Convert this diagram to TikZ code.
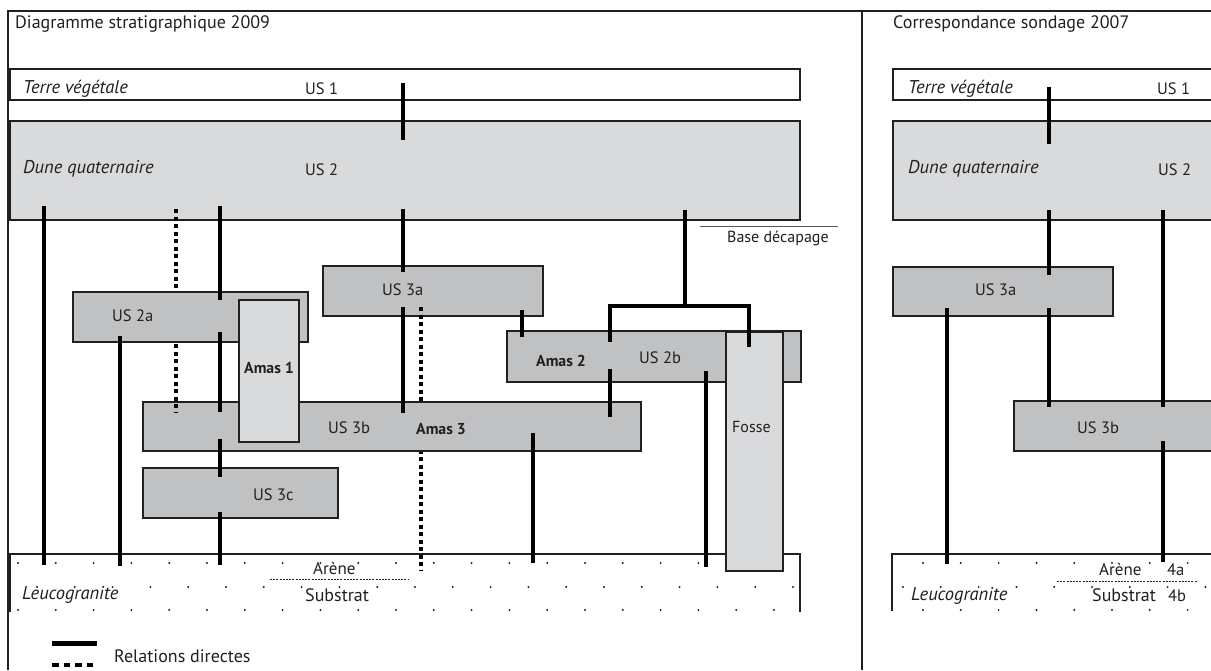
\documentclass[tikz,border=0pt]{standalone}
\usepackage{fontspec}
\setmainfont{PT Sans}
\usetikzlibrary{calc}
\definecolor{lightg}{RGB}{217,218,220}
\definecolor{midg}{RGB}{192,193,195}
\definecolor{ink}{RGB}{35,31,32}
\begin{document}
\begin{tikzpicture}[x=1pt,y=-1pt,
  ubox/.style={draw=ink, line width=1.3pt, inner sep=0pt, outer sep=0pt, anchor=north west},
  rel/.style={draw=black, line width=3.2pt},
  relind/.style={draw=black, line width=3.2pt, dash pattern=on 4pt off 3.5pt},
  frame/.style={draw=ink, line width=2pt},
  lab/.style={anchor=base west, inner sep=0pt, text=ink, font=\fontsize{18}{20}\selectfont},
  us/.style={lab, font=\fontsize{16.5}{18}\selectfont},
  ital/.style={lab, font=\fontsize{18.5}{20}\selectfont\itshape},
  bl/.style={lab, font=\fontsize{15.8}{17}\selectfont\bfseries},
  sm/.style={lab, font=\fontsize{16}{17}\selectfont},
  dot/.style={fill=ink}
]
\useasboundingbox (0,0) rectangle (1211,670);
\clip (0,0) rectangle (1211,670);
\fill[white] (0,0) rectangle (1211,670);

% frame
\draw[frame] (8,670) -- (8,11) -- (1211,11);
\draw[frame] (862,11) -- (862,670);

% ---------- left panel ----------
% leucogranite
\node[ubox, draw=none, minimum width=790pt, minimum height=58pt] (leuco) at (10,554) {};
\draw[ubox] (leuco.south west) -- (leuco.north west) -- (leuco.north east) -- (leuco.south east);
\foreach \k in {0,...,20} {
  \fill[dot] (18+37.8*\k,563) circle[radius=1.1pt];
  \fill[dot] (37+37.8*\k,587) circle[radius=1.1pt];
  \fill[dot] (18+37.8*\k,610) circle[radius=1.1pt];
}
\draw[ink, line width=0.8pt, dash pattern=on 2pt off 1.2pt] (270,579) -- (408,579);

% boxes
\node[ubox, fill=white, minimum width=790pt, minimum height=31pt] (us1) at (10,69) {};
\node[ubox, fill=lightg, minimum width=790pt, minimum height=99pt] (us2) at (10,121) {};
\node[ubox, fill=midg, minimum width=220pt, minimum height=50pt] (us3a) at (323,266) {};
\node[ubox, fill=midg, minimum width=294pt, minimum height=51pt] (us2b) at (507,331) {};
\node[ubox, fill=midg, minimum width=195pt, minimum height=50pt] (us3c) at (143,468) {};
\draw[relind, shorten <=-9pt, shorten >=-16pt] (us3a.south -| 421,0) -- (leuco.north -| 421,0);
\node[ubox, fill=midg, minimum width=498pt, minimum height=49pt] (us3b) at (143,402) {};
\draw[relind, shorten <=-11pt, shorten >=-10pt] (us2.south -| 176,0) -- (us3b.north -| 176,0);
\node[ubox, fill=midg, minimum width=235pt, minimum height=50pt] (us2a) at (73,292) {};
\node[ubox, fill=lightg, minimum width=60pt, minimum height=142pt] (amas1) at (239,300) {};
\node[ubox, fill=lightg, minimum width=57pt, minimum height=239pt] (fosse) at (726,332) {};

% base décapage
\draw[ink!75, line width=1pt] (700,226) -- (838,226);

% relations
\draw[rel, shorten <=-17pt, shorten >=-19pt] (us1.south -| 403,0) -- (us2.north -| 403,0);
\draw[rel, shorten <=-11pt, shorten >=-6pt] (us2.south -| 403,0) -- (us3a.north -| 403,0);
\draw[rel, shorten <=-9pt, shorten >=-11pt] (us3a.south -| 403,0) -- (us3b.north -| 403,0);
\draw[rel, shorten <=-14pt, shorten >=-11pt] (us2.south -| 44,0) -- (leuco.north -| 44,0);
\draw[rel, shorten <=-14pt, shorten >=-8pt] (us2.south -| 220,0) -- (us2a.north -| 220,0);
\draw[rel, shorten <=-10pt, shorten >=-10pt] (us2a.south -| 220,0) -- (us3b.north -| 220,0);
\draw[rel, shorten <=-12pt, shorten >=-9pt] (us3b.south -| 220,0) -- (us3c.north -| 220,0);
\draw[rel, shorten <=-6pt, shorten >=-11pt] (us3c.south -| 220,0) -- (leuco.north -| 220,0);
\draw[rel, shorten <=-6pt, shorten >=-12pt] (us2a.south -| 120,0) -- (leuco.north -| 120,0);
\draw[rel, shorten <=-18pt, shorten >=-9pt] (us3b.south -| 533,0) -- (leuco.north -| 533,0);
\draw[rel, shorten <=-6pt, shorten >=-6pt] (us3a.south -| 522,0) -- (us2b.north -| 522,0);
\draw[rel, shorten <=-13pt, shorten >=-15pt] (us2b.south -| 610,0) -- (us3b.north -| 610,0);
\draw[rel, shorten <=-11pt, shorten >=-13pt] (us2b.south -| 706,0) -- (leuco.north -| 706,0);
\coordinate (fork) at (685,306);
\draw[rel] ($(us2.south -| 685,0)+(0,-10)$) -- (fork);
\draw[rel] ($(us2b.north -| 610,0)+(0,11)$) |- (fork) -| ($(fosse.north -| 749,0)+(0,15)$);

% texts left
\node[lab] (title1) at (15,28) {Diagramme stratigraphique 2009};
\node[ital] at (23,93) {Terre végétale};
\node[us] at (305,94) {US 1};
\node[ital] at (23,173) {Dune quaternaire};
\node[us] at (305,175) {US 2};
\node[us] at (112,321) {US 2a};
\node[us] at (382,295) {US 3a};
\node[bl] at (244,373) {Amas 1};
\node[us] at (328,433) {US 3b};
\node[bl] at (416,434) {Amas 3};
\node[bl] at (536,366) {Amas 2};
\node[us] at (639,363) {US 2b};
\node[sm] at (732,432) {Fosse};
\node[us] at (253,500) {US 3c};
\node[sm] at (727,242) {Base décapage};
\node[ital] at (22,599) {Leucogranite};
\node[lab, font=\fontsize{17}{18}\selectfont] at (313,574) {Arène};
\node[lab] at (305,601) {Substrat};

% legend
\draw[draw=black, line width=5pt] (52,643) -- (97,643);
\draw[draw=black, line width=4pt, dash pattern=on 6.5pt off 5pt] (52,665) -- (97,665);
\node[lab] at (114,662) {Relations directes};

% ---------- right panel ----------
\node[ubox, draw=none, minimum width=340pt, minimum height=57pt] (leucor) at (892,554) {};
\draw[ubox] (leucor.south west) -- (leucor.north west) -- (leucor.north east);
\foreach \k in {0,...,7} {
  \fill[dot] (923+37.8*\k,563) circle[radius=1.1pt];
  \fill[dot] (923+37.8*\k,610) circle[radius=1.1pt];
}
\foreach \k in {0,...,8} {
  \fill[dot] (903+37.8*\k,587) circle[radius=1.1pt];
}
\draw[ink, line width=0.8pt, dash pattern=on 2pt off 1.2pt] (1057,581) -- (1197,581);

\node[ubox, fill=white, minimum width=340pt, minimum height=31pt] (us1r) at (893,69) {};
\node[ubox, fill=lightg, minimum width=340pt, minimum height=99pt] (us2r) at (893,121) {};
\node[ubox, fill=midg, minimum width=220pt, minimum height=49pt] (us3ar) at (893,267) {};
\node[ubox, fill=midg, minimum width=220pt, minimum height=50pt] (us3br) at (1014,401) {};

\draw[rel, shorten <=-13pt, shorten >=-23pt] (us1r.south -| 1049,0) -- (us2r.north -| 1049,0);
\draw[rel, shorten <=-10pt, shorten >=-8pt] (us2r.south -| 1049,0) -- (us3ar.north -| 1049,0);
\draw[rel, shorten <=-8pt, shorten >=-6pt] (us3ar.south -| 1049,0) -- (us3br.north -| 1049,0);
\draw[rel, shorten <=-8pt, shorten >=-10pt] (us3ar.south -| 947,0) -- (leucor.north -| 947,0);
\draw[rel, shorten <=-10pt, shorten >=-6pt] (us2r.south -| 1163,0) -- (us3br.north -| 1163,0);
\draw[rel, shorten <=-10pt, shorten >=-8pt] (us3br.south -| 1163,0) -- (leucor.north -| 1163,0);

\node[lab] (title2) at (893,28) {Correspondance sondage 2007};
\node[ital] at (908,93) {Terre végétale};
\node[us] at (1157,94) {US 1};
\node[ital] at (908,173) {Dune quaternaire};
\node[us] at (1158,175) {US 2};
\node[us] at (975,295) {US 3a};
\node[us] at (1077,433) {US 3b};
\node[ital] at (911,600) {Leucogranite};
\node[lab, font=\fontsize{17}{18}\selectfont] at (1099,575) {Arène};
\node[us] at (1167,575) {4a};
\node[lab] at (1092,601) {Substrat};
\node[us] at (1168,601) {4b};
\end{tikzpicture}
\end{document}
